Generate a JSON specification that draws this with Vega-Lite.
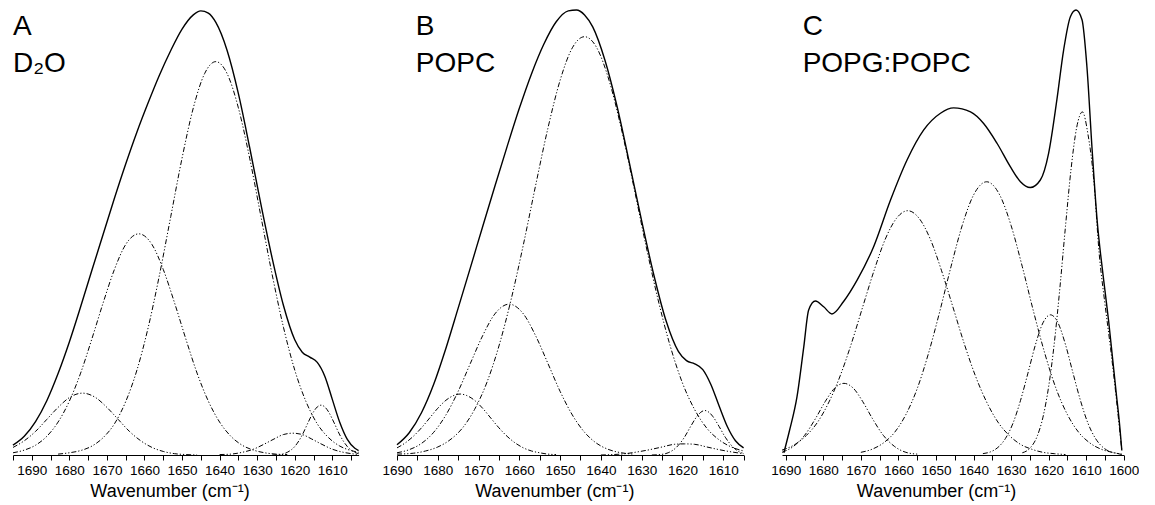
{
"$schema": "https://vega.github.io/schema/vega-lite/v6.json",
"padding": {"left": 10, "top": 7, "right": 0, "bottom": 0},
"bounds": "flush",
"spacing": 38,
"config": {"view": {"stroke": null}, "font": "Liberation Sans",
 "axis": {"labelOverlap": false, "labelFlush": false, "grid": false, "domainColor": "#000", "tickColor": "#000", "labelColor": "#000", "titleColor": "#000", "tickSize": 5, "labelFontSize": 13.5, "titleFontSize": 18, "titleFontWeight": "normal", "labelFont": "Liberation Sans", "titleFont": "Liberation Sans", "labelPadding": 3, "titlePadding": 6, "titleAlign": "center"}},
"datasets": {
"curves": [
{"panel":"A","curve":"total","w":1695,"v":0.022},{"panel":"A","curve":"total","w":1692,"v":0.042},{"panel":"A","curve":"total","w":1689,"v":0.075},{"panel":"A","curve":"total","w":1686,"v":0.122},{"panel":"A","curve":"total","w":1683,"v":0.183},{"panel":"A","curve":"total","w":1680,"v":0.254},{"panel":"A","curve":"total","w":1677,"v":0.333},{"panel":"A","curve":"total","w":1674,"v":0.415},{"panel":"A","curve":"total","w":1671,"v":0.496},{"panel":"A","curve":"total","w":1668,"v":0.577},{"panel":"A","curve":"total","w":1665,"v":0.654},{"panel":"A","curve":"total","w":1662,"v":0.726},{"panel":"A","curve":"total","w":1659,"v":0.792},{"panel":"A","curve":"total","w":1656,"v":0.854},{"panel":"A","curve":"total","w":1653,"v":0.909},{"panel":"A","curve":"total","w":1650,"v":0.957},{"panel":"A","curve":"total","w":1647,"v":0.989},{"panel":"A","curve":"total","w":1645,"v":0.998},{"panel":"A","curve":"total","w":1643,"v":0.993},{"panel":"A","curve":"total","w":1641,"v":0.972},{"panel":"A","curve":"total","w":1638,"v":0.909},{"panel":"A","curve":"total","w":1635,"v":0.812},{"panel":"A","curve":"total","w":1632,"v":0.691},{"panel":"A","curve":"total","w":1629,"v":0.563},{"panel":"A","curve":"total","w":1626,"v":0.442},{"panel":"A","curve":"total","w":1623,"v":0.336},{"panel":"A","curve":"total","w":1620,"v":0.259},{"panel":"A","curve":"total","w":1618,"v":0.231},{"panel":"A","curve":"total","w":1616,"v":0.220},{"panel":"A","curve":"total","w":1614,"v":0.208},{"panel":"A","curve":"total","w":1612,"v":0.177},{"panel":"A","curve":"total","w":1610,"v":0.125},{"panel":"A","curve":"total","w":1608,"v":0.073},{"panel":"A","curve":"total","w":1606,"v":0.035},{"panel":"A","curve":"total","w":1604,"v":0.015},{"panel":"A","curve":"total","w":1603,"v":0.010},
{"panel":"A","curve":"c1","w":1695,"v":0.017},{"panel":"A","curve":"c1","w":1692,"v":0.032},{"panel":"A","curve":"c1","w":1689,"v":0.053},{"panel":"A","curve":"c1","w":1686,"v":0.080},{"panel":"A","curve":"c1","w":1683,"v":0.107},{"panel":"A","curve":"c1","w":1680,"v":0.129},{"panel":"A","curve":"c1","w":1676.5,"v":0.139},{"panel":"A","curve":"c1","w":1673,"v":0.129},{"panel":"A","curve":"c1","w":1670,"v":0.107},{"panel":"A","curve":"c1","w":1667,"v":0.080},{"panel":"A","curve":"c1","w":1664,"v":0.053},{"panel":"A","curve":"c1","w":1661,"v":0.032},{"panel":"A","curve":"c1","w":1658,"v":0.017},{"panel":"A","curve":"c1","w":1655,"v":0.008},{"panel":"A","curve":"c1","w":1652,"v":0.003},{"panel":"A","curve":"c1","w":1649,"v":0.001},{"panel":"A","curve":"c1","w":1646,"v":0.0},
{"panel":"A","curve":"c2","w":1695,"v":0.005},{"panel":"A","curve":"c2","w":1692,"v":0.011},{"panel":"A","curve":"c2","w":1689,"v":0.022},{"panel":"A","curve":"c2","w":1686,"v":0.042},{"panel":"A","curve":"c2","w":1683,"v":0.074},{"panel":"A","curve":"c2","w":1680,"v":0.121},{"panel":"A","curve":"c2","w":1677,"v":0.184},{"panel":"A","curve":"c2","w":1674,"v":0.261},{"panel":"A","curve":"c2","w":1671,"v":0.342},{"panel":"A","curve":"c2","w":1668,"v":0.417},{"panel":"A","curve":"c2","w":1665,"v":0.473},{"panel":"A","curve":"c2","w":1661.5,"v":0.497},{"panel":"A","curve":"c2","w":1658,"v":0.473},{"panel":"A","curve":"c2","w":1655,"v":0.417},{"panel":"A","curve":"c2","w":1652,"v":0.342},{"panel":"A","curve":"c2","w":1649,"v":0.261},{"panel":"A","curve":"c2","w":1646,"v":0.184},{"panel":"A","curve":"c2","w":1643,"v":0.121},{"panel":"A","curve":"c2","w":1640,"v":0.074},{"panel":"A","curve":"c2","w":1637,"v":0.042},{"panel":"A","curve":"c2","w":1634,"v":0.022},{"panel":"A","curve":"c2","w":1631,"v":0.011},{"panel":"A","curve":"c2","w":1628,"v":0.005},{"panel":"A","curve":"c2","w":1625,"v":0.002},{"panel":"A","curve":"c2","w":1622,"v":0.001},
{"panel":"A","curve":"c3","w":1683,"v":0.002},{"panel":"A","curve":"c3","w":1680,"v":0.005},{"panel":"A","curve":"c3","w":1677,"v":0.010},{"panel":"A","curve":"c3","w":1674,"v":0.020},{"panel":"A","curve":"c3","w":1671,"v":0.039},{"panel":"A","curve":"c3","w":1668,"v":0.070},{"panel":"A","curve":"c3","w":1665,"v":0.120},{"panel":"A","curve":"c3","w":1662,"v":0.191},{"panel":"A","curve":"c3","w":1659,"v":0.287},{"panel":"A","curve":"c3","w":1656,"v":0.405},{"panel":"A","curve":"c3","w":1653,"v":0.536},{"panel":"A","curve":"c3","w":1650,"v":0.667},{"panel":"A","curve":"c3","w":1647,"v":0.780},{"panel":"A","curve":"c3","w":1644,"v":0.857},{"panel":"A","curve":"c3","w":1641,"v":0.884},{"panel":"A","curve":"c3","w":1638,"v":0.857},{"panel":"A","curve":"c3","w":1635,"v":0.780},{"panel":"A","curve":"c3","w":1632,"v":0.667},{"panel":"A","curve":"c3","w":1629,"v":0.536},{"panel":"A","curve":"c3","w":1626,"v":0.405},{"panel":"A","curve":"c3","w":1623,"v":0.287},{"panel":"A","curve":"c3","w":1620,"v":0.191},{"panel":"A","curve":"c3","w":1617,"v":0.120},{"panel":"A","curve":"c3","w":1614,"v":0.070},{"panel":"A","curve":"c3","w":1611,"v":0.039},{"panel":"A","curve":"c3","w":1608,"v":0.020},{"panel":"A","curve":"c3","w":1605,"v":0.010},{"panel":"A","curve":"c3","w":1603,"v":0.006},
{"panel":"A","curve":"c4","w":1640,"v":0.001},{"panel":"A","curve":"c4","w":1637,"v":0.002},{"panel":"A","curve":"c4","w":1634,"v":0.006},{"panel":"A","curve":"c4","w":1631,"v":0.013},{"panel":"A","curve":"c4","w":1628,"v":0.025},{"panel":"A","curve":"c4","w":1625.5,"v":0.036},{"panel":"A","curve":"c4","w":1623,"v":0.046},{"panel":"A","curve":"c4","w":1620.5,"v":0.049},{"panel":"A","curve":"c4","w":1618,"v":0.046},{"panel":"A","curve":"c4","w":1615.5,"v":0.036},{"panel":"A","curve":"c4","w":1613,"v":0.025},{"panel":"A","curve":"c4","w":1610,"v":0.013},{"panel":"A","curve":"c4","w":1607,"v":0.006},{"panel":"A","curve":"c4","w":1604,"v":0.002},{"panel":"A","curve":"c4","w":1603,"v":0.001},
{"panel":"A","curve":"c5","w":1626,"v":0.0},{"panel":"A","curve":"c5","w":1624,"v":0.001},{"panel":"A","curve":"c5","w":1622,"v":0.006},{"panel":"A","curve":"c5","w":1620,"v":0.019},{"panel":"A","curve":"c5","w":1618,"v":0.045},{"panel":"A","curve":"c5","w":1616.5,"v":0.072},{"panel":"A","curve":"c5","w":1615,"v":0.097},{"panel":"A","curve":"c5","w":1614,"v":0.108},{"panel":"A","curve":"c5","w":1613,"v":0.112},{"panel":"A","curve":"c5","w":1612,"v":0.108},{"panel":"A","curve":"c5","w":1611,"v":0.097},{"panel":"A","curve":"c5","w":1609.5,"v":0.072},{"panel":"A","curve":"c5","w":1608,"v":0.045},{"panel":"A","curve":"c5","w":1606,"v":0.019},{"panel":"A","curve":"c5","w":1604,"v":0.006},{"panel":"A","curve":"c5","w":1603,"v":0.003},
{"panel":"B","curve":"total","w":1690,"v":0.023},{"panel":"B","curve":"total","w":1687,"v":0.050},{"panel":"B","curve":"total","w":1684,"v":0.095},{"panel":"B","curve":"total","w":1681,"v":0.159},{"panel":"B","curve":"total","w":1678,"v":0.240},{"panel":"B","curve":"total","w":1675,"v":0.330},{"panel":"B","curve":"total","w":1672,"v":0.421},{"panel":"B","curve":"total","w":1669,"v":0.513},{"panel":"B","curve":"total","w":1666,"v":0.604},{"panel":"B","curve":"total","w":1663,"v":0.693},{"panel":"B","curve":"total","w":1660,"v":0.779},{"panel":"B","curve":"total","w":1657,"v":0.857},{"panel":"B","curve":"total","w":1654,"v":0.923},{"panel":"B","curve":"total","w":1651,"v":0.973},{"panel":"B","curve":"total","w":1648,"v":0.998},{"panel":"B","curve":"total","w":1646,"v":1.0},{"panel":"B","curve":"total","w":1644,"v":0.989},{"panel":"B","curve":"total","w":1642,"v":0.962},{"panel":"B","curve":"total","w":1639,"v":0.887},{"panel":"B","curve":"total","w":1636,"v":0.782},{"panel":"B","curve":"total","w":1633,"v":0.656},{"panel":"B","curve":"total","w":1630,"v":0.526},{"panel":"B","curve":"total","w":1627,"v":0.404},{"panel":"B","curve":"total","w":1624,"v":0.301},{"panel":"B","curve":"total","w":1621,"v":0.233},{"panel":"B","curve":"total","w":1619,"v":0.212},{"panel":"B","curve":"total","w":1617,"v":0.205},{"panel":"B","curve":"total","w":1615,"v":0.192},{"panel":"B","curve":"total","w":1613,"v":0.158},{"panel":"B","curve":"total","w":1611,"v":0.110},{"panel":"B","curve":"total","w":1609,"v":0.064},{"panel":"B","curve":"total","w":1607,"v":0.032},{"panel":"B","curve":"total","w":1605,"v":0.016},
{"panel":"B","curve":"c1","w":1690,"v":0.016},{"panel":"B","curve":"c1","w":1688,"v":0.027},{"panel":"B","curve":"c1","w":1686,"v":0.042},{"panel":"B","curve":"c1","w":1684,"v":0.061},{"panel":"B","curve":"c1","w":1682,"v":0.083},{"panel":"B","curve":"c1","w":1680,"v":0.105},{"panel":"B","curve":"c1","w":1678,"v":0.123},{"panel":"B","curve":"c1","w":1676,"v":0.134},{"panel":"B","curve":"c1","w":1674.5,"v":0.137},{"panel":"B","curve":"c1","w":1673,"v":0.134},{"panel":"B","curve":"c1","w":1671,"v":0.123},{"panel":"B","curve":"c1","w":1669,"v":0.105},{"panel":"B","curve":"c1","w":1667,"v":0.083},{"panel":"B","curve":"c1","w":1665,"v":0.061},{"panel":"B","curve":"c1","w":1663,"v":0.042},{"panel":"B","curve":"c1","w":1661,"v":0.027},{"panel":"B","curve":"c1","w":1659,"v":0.016},{"panel":"B","curve":"c1","w":1657,"v":0.009},{"panel":"B","curve":"c1","w":1655,"v":0.005},{"panel":"B","curve":"c1","w":1653,"v":0.002},{"panel":"B","curve":"c1","w":1651,"v":0.001},
{"panel":"B","curve":"c2","w":1690,"v":0.005},{"panel":"B","curve":"c2","w":1687,"v":0.012},{"panel":"B","curve":"c2","w":1684,"v":0.026},{"panel":"B","curve":"c2","w":1681,"v":0.051},{"panel":"B","curve":"c2","w":1678,"v":0.090},{"panel":"B","curve":"c2","w":1675,"v":0.143},{"panel":"B","curve":"c2","w":1672,"v":0.206},{"panel":"B","curve":"c2","w":1669,"v":0.268},{"panel":"B","curve":"c2","w":1666,"v":0.317},{"panel":"B","curve":"c2","w":1662.5,"v":0.339},{"panel":"B","curve":"c2","w":1659,"v":0.317},{"panel":"B","curve":"c2","w":1656,"v":0.268},{"panel":"B","curve":"c2","w":1653,"v":0.206},{"panel":"B","curve":"c2","w":1650,"v":0.143},{"panel":"B","curve":"c2","w":1647,"v":0.090},{"panel":"B","curve":"c2","w":1644,"v":0.051},{"panel":"B","curve":"c2","w":1641,"v":0.026},{"panel":"B","curve":"c2","w":1638,"v":0.012},{"panel":"B","curve":"c2","w":1635,"v":0.005},{"panel":"B","curve":"c2","w":1632,"v":0.002},
{"panel":"B","curve":"c3","w":1690,"v":0.002},{"panel":"B","curve":"c3","w":1686,"v":0.004},{"panel":"B","curve":"c3","w":1683,"v":0.009},{"panel":"B","curve":"c3","w":1680,"v":0.018},{"panel":"B","curve":"c3","w":1677,"v":0.034},{"panel":"B","curve":"c3","w":1674,"v":0.060},{"panel":"B","curve":"c3","w":1671,"v":0.102},{"panel":"B","curve":"c3","w":1668,"v":0.162},{"panel":"B","curve":"c3","w":1665,"v":0.245},{"panel":"B","curve":"c3","w":1662,"v":0.350},{"panel":"B","curve":"c3","w":1659,"v":0.473},{"panel":"B","curve":"c3","w":1656,"v":0.606},{"panel":"B","curve":"c3","w":1653,"v":0.734},{"panel":"B","curve":"c3","w":1650,"v":0.842},{"panel":"B","curve":"c3","w":1647,"v":0.915},{"panel":"B","curve":"c3","w":1644,"v":0.940},{"panel":"B","curve":"c3","w":1641,"v":0.915},{"panel":"B","curve":"c3","w":1638,"v":0.842},{"panel":"B","curve":"c3","w":1635,"v":0.734},{"panel":"B","curve":"c3","w":1632,"v":0.606},{"panel":"B","curve":"c3","w":1629,"v":0.473},{"panel":"B","curve":"c3","w":1626,"v":0.350},{"panel":"B","curve":"c3","w":1623,"v":0.245},{"panel":"B","curve":"c3","w":1620,"v":0.162},{"panel":"B","curve":"c3","w":1617,"v":0.102},{"panel":"B","curve":"c3","w":1614,"v":0.060},{"panel":"B","curve":"c3","w":1611,"v":0.034},{"panel":"B","curve":"c3","w":1608,"v":0.018},{"panel":"B","curve":"c3","w":1605,"v":0.009},
{"panel":"B","curve":"c4","w":1640,"v":0.0},{"panel":"B","curve":"c4","w":1637,"v":0.001},{"panel":"B","curve":"c4","w":1634,"v":0.003},{"panel":"B","curve":"c4","w":1631,"v":0.007},{"panel":"B","curve":"c4","w":1628,"v":0.012},{"panel":"B","curve":"c4","w":1625,"v":0.018},{"panel":"B","curve":"c4","w":1622,"v":0.024},{"panel":"B","curve":"c4","w":1619.5,"v":0.025},{"panel":"B","curve":"c4","w":1617,"v":0.024},{"panel":"B","curve":"c4","w":1614,"v":0.018},{"panel":"B","curve":"c4","w":1611,"v":0.012},{"panel":"B","curve":"c4","w":1608,"v":0.007},{"panel":"B","curve":"c4","w":1605,"v":0.003},
{"panel":"B","curve":"c5","w":1627.5,"v":0.0},{"panel":"B","curve":"c5","w":1625.5,"v":0.001},{"panel":"B","curve":"c5","w":1623.5,"v":0.005},{"panel":"B","curve":"c5","w":1621.5,"v":0.017},{"panel":"B","curve":"c5","w":1619.5,"v":0.040},{"panel":"B","curve":"c5","w":1618,"v":0.064},{"panel":"B","curve":"c5","w":1616.5,"v":0.086},{"panel":"B","curve":"c5","w":1615.5,"v":0.096},{"panel":"B","curve":"c5","w":1614.5,"v":0.100},{"panel":"B","curve":"c5","w":1613.5,"v":0.096},{"panel":"B","curve":"c5","w":1612.5,"v":0.086},{"panel":"B","curve":"c5","w":1611,"v":0.064},{"panel":"B","curve":"c5","w":1609.5,"v":0.040},{"panel":"B","curve":"c5","w":1607.5,"v":0.017},{"panel":"B","curve":"c5","w":1605.5,"v":0.005},{"panel":"B","curve":"c5","w":1605,"v":0.004},
{"panel":"C","curve":"total","w":1690.5,"v":0.005},{"panel":"C","curve":"total","w":1689,"v":0.055},{"panel":"C","curve":"total","w":1687,"v":0.131},{"panel":"C","curve":"total","w":1685.2,"v":0.243},{"panel":"C","curve":"total","w":1683.9,"v":0.326},{"panel":"C","curve":"total","w":1682.1,"v":0.346},{"panel":"C","curve":"total","w":1679.9,"v":0.333},{"panel":"C","curve":"total","w":1677.7,"v":0.317},{"panel":"C","curve":"total","w":1674.6,"v":0.345},{"panel":"C","curve":"total","w":1671,"v":0.393},{"panel":"C","curve":"total","w":1666.6,"v":0.468},{"panel":"C","curve":"total","w":1662.1,"v":0.573},{"panel":"C","curve":"total","w":1657.7,"v":0.663},{"panel":"C","curve":"total","w":1653.3,"v":0.730},{"panel":"C","curve":"total","w":1648.8,"v":0.768},{"panel":"C","curve":"total","w":1645.3,"v":0.780},{"panel":"C","curve":"total","w":1640.8,"v":0.771},{"panel":"C","curve":"total","w":1637.3,"v":0.745},{"panel":"C","curve":"total","w":1633.7,"v":0.700},{"panel":"C","curve":"total","w":1630.2,"v":0.648},{"panel":"C","curve":"total","w":1627.5,"v":0.614},{"panel":"C","curve":"total","w":1624.9,"v":0.601},{"panel":"C","curve":"total","w":1622.2,"v":0.618},{"panel":"C","curve":"total","w":1620,"v":0.678},{"panel":"C","curve":"total","w":1617.8,"v":0.798},{"panel":"C","curve":"total","w":1616,"v":0.910},{"panel":"C","curve":"total","w":1614.2,"v":0.985},{"panel":"C","curve":"total","w":1612.7,"v":1.0},{"panel":"C","curve":"total","w":1611.1,"v":0.978},{"panel":"C","curve":"total","w":1609.8,"v":0.873},{"panel":"C","curve":"total","w":1608.4,"v":0.685},{"panel":"C","curve":"total","w":1607,"v":0.52},{"panel":"C","curve":"total","w":1606,"v":0.44},{"panel":"C","curve":"total","w":1605,"v":0.37},{"panel":"C","curve":"total","w":1604,"v":0.30},{"panel":"C","curve":"total","w":1603,"v":0.22},{"panel":"C","curve":"total","w":1602,"v":0.14},{"panel":"C","curve":"total","w":1601,"v":0.06},{"panel":"C","curve":"total","w":1600.5,"v":0.01},
{"panel":"C","curve":"c1","w":1691,"v":0.006},{"panel":"C","curve":"c1","w":1688,"v":0.019},{"panel":"C","curve":"c1","w":1685,"v":0.044},{"panel":"C","curve":"c1","w":1682,"v":0.083},{"panel":"C","curve":"c1","w":1679.5,"v":0.120},{"panel":"C","curve":"c1","w":1677,"v":0.150},{"panel":"C","curve":"c1","w":1674.5,"v":0.161},{"panel":"C","curve":"c1","w":1672,"v":0.150},{"panel":"C","curve":"c1","w":1669.5,"v":0.120},{"panel":"C","curve":"c1","w":1667,"v":0.083},{"panel":"C","curve":"c1","w":1664,"v":0.044},{"panel":"C","curve":"c1","w":1661,"v":0.019},{"panel":"C","curve":"c1","w":1658,"v":0.006},{"panel":"C","curve":"c1","w":1655,"v":0.002},
{"panel":"C","curve":"c2","w":1691,"v":0.011},{"panel":"C","curve":"c2","w":1687.5,"v":0.024},{"panel":"C","curve":"c2","w":1684.5,"v":0.044},{"panel":"C","curve":"c2","w":1681.5,"v":0.074},{"panel":"C","curve":"c2","w":1678.5,"v":0.119},{"panel":"C","curve":"c2","w":1675.5,"v":0.178},{"panel":"C","curve":"c2","w":1672.5,"v":0.251},{"panel":"C","curve":"c2","w":1669.5,"v":0.333},{"panel":"C","curve":"c2","w":1666.5,"v":0.414},{"panel":"C","curve":"c2","w":1663.5,"v":0.485},{"panel":"C","curve":"c2","w":1660.5,"v":0.532},{"panel":"C","curve":"c2","w":1657.5,"v":0.549},{"panel":"C","curve":"c2","w":1654.5,"v":0.532},{"panel":"C","curve":"c2","w":1651.5,"v":0.485},{"panel":"C","curve":"c2","w":1648.5,"v":0.414},{"panel":"C","curve":"c2","w":1645.5,"v":0.333},{"panel":"C","curve":"c2","w":1642.5,"v":0.251},{"panel":"C","curve":"c2","w":1639.5,"v":0.178},{"panel":"C","curve":"c2","w":1636.5,"v":0.119},{"panel":"C","curve":"c2","w":1633.5,"v":0.074},{"panel":"C","curve":"c2","w":1630.5,"v":0.044},{"panel":"C","curve":"c2","w":1627.5,"v":0.024},{"panel":"C","curve":"c2","w":1624.5,"v":0.013},{"panel":"C","curve":"c2","w":1621.5,"v":0.006},{"panel":"C","curve":"c2","w":1618.5,"v":0.003},{"panel":"C","curve":"c2","w":1615.5,"v":0.001},
{"panel":"C","curve":"c3","w":1670,"v":0.006},{"panel":"C","curve":"c3","w":1667,"v":0.013},{"panel":"C","curve":"c3","w":1664,"v":0.027},{"panel":"C","curve":"c3","w":1661,"v":0.051},{"panel":"C","curve":"c3","w":1658,"v":0.091},{"panel":"C","curve":"c3","w":1655,"v":0.149},{"panel":"C","curve":"c3","w":1652,"v":0.228},{"panel":"C","curve":"c3","w":1649,"v":0.322},{"panel":"C","curve":"c3","w":1646,"v":0.423},{"panel":"C","curve":"c3","w":1643,"v":0.516},{"panel":"C","curve":"c3","w":1640,"v":0.584},{"panel":"C","curve":"c3","w":1636.5,"v":0.614},{"panel":"C","curve":"c3","w":1633,"v":0.584},{"panel":"C","curve":"c3","w":1630,"v":0.516},{"panel":"C","curve":"c3","w":1627,"v":0.423},{"panel":"C","curve":"c3","w":1624,"v":0.322},{"panel":"C","curve":"c3","w":1621,"v":0.228},{"panel":"C","curve":"c3","w":1618,"v":0.149},{"panel":"C","curve":"c3","w":1615,"v":0.091},{"panel":"C","curve":"c3","w":1612,"v":0.051},{"panel":"C","curve":"c3","w":1609,"v":0.027},{"panel":"C","curve":"c3","w":1606,"v":0.013},{"panel":"C","curve":"c3","w":1603,"v":0.006},{"panel":"C","curve":"c3","w":1600.5,"v":0.002},
{"panel":"C","curve":"c4","w":1637.5,"v":0.003},{"panel":"C","curve":"c4","w":1635.5,"v":0.007},{"panel":"C","curve":"c4","w":1633.5,"v":0.017},{"panel":"C","curve":"c4","w":1631.5,"v":0.037},{"panel":"C","curve":"c4","w":1629.5,"v":0.071},{"panel":"C","curve":"c4","w":1627.5,"v":0.122},{"panel":"C","curve":"c4","w":1625.5,"v":0.184},{"panel":"C","curve":"c4","w":1623.5,"v":0.248},{"panel":"C","curve":"c4","w":1621.5,"v":0.297},{"panel":"C","curve":"c4","w":1619.5,"v":0.315},{"panel":"C","curve":"c4","w":1617.5,"v":0.297},{"panel":"C","curve":"c4","w":1615.5,"v":0.248},{"panel":"C","curve":"c4","w":1613.5,"v":0.184},{"panel":"C","curve":"c4","w":1611.5,"v":0.122},{"panel":"C","curve":"c4","w":1609.5,"v":0.071},{"panel":"C","curve":"c4","w":1607.5,"v":0.037},{"panel":"C","curve":"c4","w":1605.5,"v":0.017},{"panel":"C","curve":"c4","w":1603.5,"v":0.007},{"panel":"C","curve":"c4","w":1601.5,"v":0.003},{"panel":"C","curve":"c4","w":1600.5,"v":0.001},
{"panel":"C","curve":"c5","w":1627,"v":0.005},{"panel":"C","curve":"c5","w":1625,"v":0.015},{"panel":"C","curve":"c5","w":1623,"v":0.043},{"panel":"C","curve":"c5","w":1621.5,"v":0.085},{"panel":"C","curve":"c5","w":1620,"v":0.153},{"panel":"C","curve":"c5","w":1618.5,"v":0.250},{"panel":"C","curve":"c5","w":1617,"v":0.375},{"panel":"C","curve":"c5","w":1615.5,"v":0.514},{"panel":"C","curve":"c5","w":1614,"v":0.644},{"panel":"C","curve":"c5","w":1612.5,"v":0.737},{"panel":"C","curve":"c5","w":1611,"v":0.771},{"panel":"C","curve":"c5","w":1609.5,"v":0.72},{"panel":"C","curve":"c5","w":1608,"v":0.62},{"panel":"C","curve":"c5","w":1606.5,"v":0.45},{"panel":"C","curve":"c5","w":1605,"v":0.34},{"panel":"C","curve":"c5","w":1603.5,"v":0.24},{"panel":"C","curve":"c5","w":1602,"v":0.13},{"panel":"C","curve":"c5","w":1601,"v":0.05},{"panel":"C","curve":"c5","w":1600.5,"v":0.01}
],
"labels": [
{"panel":"A","w":1695,"v":0.943,"t":"A"},{"panel":"A","w":1695,"v":0.861,"t":"D₂O"},
{"panel":"B","w":1685.4,"v":0.943,"t":"B"},{"panel":"B","w":1685.4,"v":0.861,"t":"POPC"},
{"panel":"C","w":1685.5,"v":0.943,"t":"C"},{"panel":"C","w":1685.5,"v":0.861,"t":"POPG:POPC"}
]
},
"hconcat": [
{
"width": 345.6, "height": 445,
"encoding": {
  "x": {"field": "w", "type": "quantitative", "scale": {"domain": [1603, 1695], "reverse": true, "nice": false, "zero": false},
        "axis": {"title": "Wavenumber (cm⁻¹)", "values": [1695,1690,1685,1680,1675,1670,1665,1660,1655,1650,1645,1640,1635,1630,1625,1620,1615,1610,1605], "format": "d", "labelExpr": "datum.value % 10 === 0 ? datum.label : ''", "labelOverlap": false, "titleX": 156.5}},
  "y": {"field": "v", "type": "quantitative", "scale": {"domain": [0, 1], "nice": false, "zero": true}, "axis": null}},
"layer": [
{"data": {"name": "curves"}, "transform": [{"filter": "datum.panel === 'A' && datum.curve !== 'total'"}],
 "mark": {"type": "line", "color": "#000", "strokeWidth": 1, "strokeDash": [5, 2, 1.2, 2, 1.2, 2], "interpolate": "monotone"},
 "encoding": {"detail": {"field": "curve"}}},
{"data": {"name": "curves"}, "transform": [{"filter": "datum.panel === 'A' && datum.curve === 'total'"}],
 "mark": {"type": "line", "color": "#000", "strokeWidth": 1.4, "interpolate": "monotone"},
 "encoding": {}},
{"data": {"name": "labels"}, "transform": [{"filter": "datum.panel === 'A'"}],
 "mark": {"type": "text", "align": "left", "baseline": "alphabetic", "fontSize": 28, "font": "Liberation Sans", "color": "#000"},
 "encoding": {"text": {"field": "t"}}}
]
},
{
"width": 346.6, "height": 445,
"encoding": {
  "x": {"field": "w", "type": "quantitative", "scale": {"domain": [1605, 1690], "reverse": true, "nice": false, "zero": false},
        "axis": {"title": "Wavenumber (cm⁻¹)", "values": [1690,1685,1680,1675,1670,1665,1660,1655,1650,1645,1640,1635,1630,1625,1620,1615,1610,1605], "format": "d", "labelExpr": "datum.value % 10 === 0 ? datum.label : ''", "labelOverlap": false, "titleX": 157.3}},
  "y": {"field": "v", "type": "quantitative", "scale": {"domain": [0, 1], "nice": false, "zero": true}, "axis": null}},
"layer": [
{"data": {"name": "curves"}, "transform": [{"filter": "datum.panel === 'B' && datum.curve !== 'total'"}],
 "mark": {"type": "line", "color": "#000", "strokeWidth": 1, "strokeDash": [5, 2, 1.2, 2, 1.2, 2], "interpolate": "monotone"},
 "encoding": {"detail": {"field": "curve"}}},
{"data": {"name": "curves"}, "transform": [{"filter": "datum.panel === 'B' && datum.curve === 'total'"}],
 "mark": {"type": "line", "color": "#000", "strokeWidth": 1.4, "interpolate": "monotone"},
 "encoding": {}},
{"data": {"name": "labels"}, "transform": [{"filter": "datum.panel === 'B'"}],
 "mark": {"type": "text", "align": "left", "baseline": "alphabetic", "fontSize": 28, "font": "Liberation Sans", "color": "#000"},
 "encoding": {"text": {"field": "t"}}}
]
},
{
"width": 341.7, "height": 445,
"encoding": {
  "x": {"field": "w", "type": "quantitative", "scale": {"domain": [1600, 1691], "reverse": true, "nice": false, "zero": false},
        "axis": {"title": "Wavenumber (cm⁻¹)", "values": [1690,1685,1680,1675,1670,1665,1660,1655,1650,1645,1640,1635,1630,1625,1620,1615,1610,1605,1600], "format": "d", "labelExpr": "datum.value % 10 === 0 ? datum.label : ''", "labelOverlap": false, "titleX": 154}},
  "y": {"field": "v", "type": "quantitative", "scale": {"domain": [0, 1], "nice": false, "zero": true}, "axis": null}},
"layer": [
{"data": {"name": "curves"}, "transform": [{"filter": "datum.panel === 'C' && datum.curve !== 'total'"}],
 "mark": {"type": "line", "color": "#000", "strokeWidth": 1, "strokeDash": [5, 2, 1.2, 2, 1.2, 2], "interpolate": "monotone"},
 "encoding": {"detail": {"field": "curve"}}},
{"data": {"name": "curves"}, "transform": [{"filter": "datum.panel === 'C' && datum.curve === 'total'"}],
 "mark": {"type": "line", "color": "#000", "strokeWidth": 1.4, "interpolate": "monotone"},
 "encoding": {}},
{"data": {"name": "labels"}, "transform": [{"filter": "datum.panel === 'C'"}],
 "mark": {"type": "text", "align": "left", "baseline": "alphabetic", "fontSize": 28, "font": "Liberation Sans", "color": "#000"},
 "encoding": {"text": {"field": "t"}}}
]
}
]
}
